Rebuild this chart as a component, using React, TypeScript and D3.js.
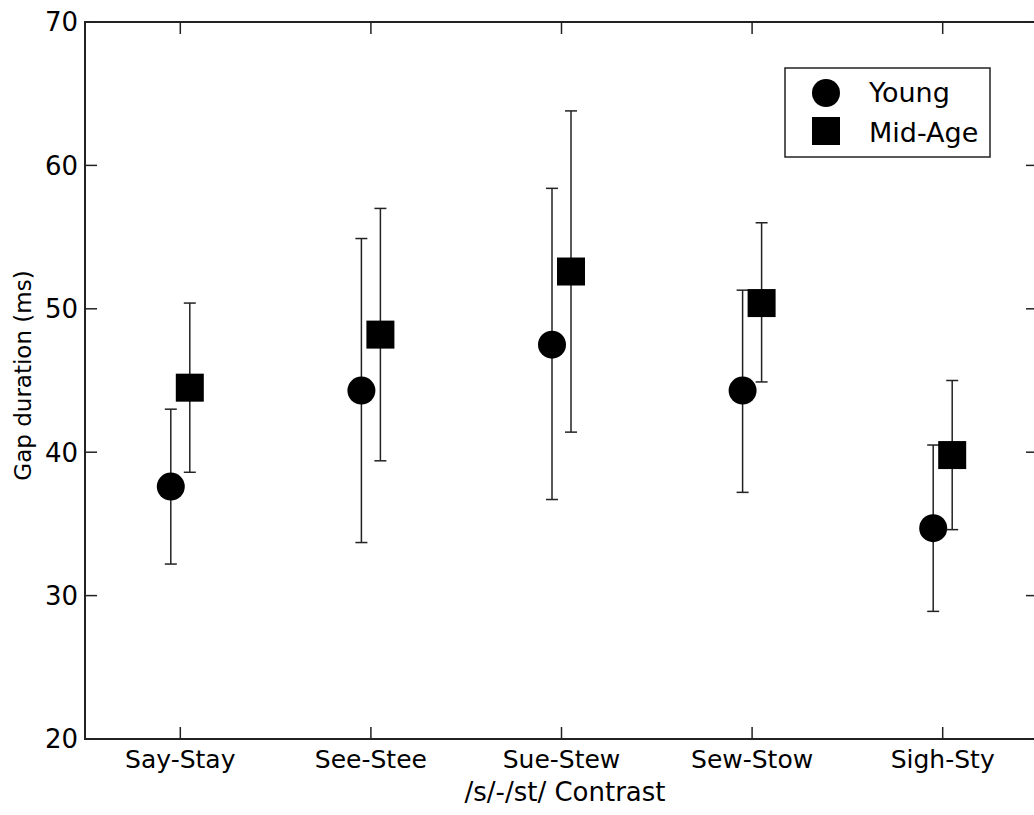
import React from 'react';
import * as d3 from 'd3';

// chart values
const categories = ['Say-Stay', 'See-Stee', 'Sue-Stew', 'Sew-Stow', 'Sigh-Sty'];
const youngMean = [37.6, 44.3, 47.5, 44.3, 34.7];
const youngLow = [32.2, 33.7, 36.7, 37.2, 28.9];
const youngHigh = [43.0, 54.9, 58.4, 51.3, 40.5];
const midMean = [44.5, 48.2, 52.6, 50.4, 39.8];
const midLow = [38.6, 39.4, 41.4, 44.9, 34.6];
const midHigh = [50.4, 57.0, 63.8, 56.0, 45.0];
const yTicks = [20, 30, 40, 50, 60, 70];

const W = 1034;
const H = 815;
const left = 85;
const top = 22;
const right = 1038;
const bottom = 739;
const font = 'DejaVu Sans, Verdana, sans-serif';

const App = () => {
  const x = d3.scaleLinear().domain([0, categories.length]).range([left, right]);
  const y = d3.scaleLinear().domain([20, 70]).range([bottom, top]);
  const off = 9.5;
  const tick = 12;
  const cap = 6;

  const series = [
    { name: 'Young', mean: youngMean, low: youngLow, high: youngHigh, dx: -off, shape: 'circle' },
    { name: 'Mid-Age', mean: midMean, low: midLow, high: midHigh, dx: off, shape: 'square' },
  ];

  return (
    <svg width={W} height={H} style={{ position: 'absolute', left: 0, top: 0, background: '#fff' }}>
      {/* frame */}
      <rect x={left} y={top} width={right - left} height={bottom - top} fill="none" stroke="#222" strokeWidth={2} />

      {/* y ticks left & right */}
      {yTicks.map((t) => (
        <g key={t}>
          <line x1={left} x2={left + tick} y1={y(t)} y2={y(t)} stroke="#222" strokeWidth={1.5} />
          <line x1={right - tick} x2={right} y1={y(t)} y2={y(t)} stroke="#222" strokeWidth={1.5} />
          <text x={78} y={y(t)} dy="0.36em" textAnchor="end" fontFamily={font} fontSize={26} fill="#000">
            {t}
          </text>
        </g>
      ))}

      {/* x ticks top & bottom */}
      {categories.map((c, i) => (
        <g key={c}>
          <line x1={x(i + 0.5)} x2={x(i + 0.5)} y1={bottom} y2={bottom - tick} stroke="#222" strokeWidth={1.5} />
          <line x1={x(i + 0.5)} x2={x(i + 0.5)} y1={top} y2={top + tick} stroke="#222" strokeWidth={1.5} />
          <text x={x(i + 0.5)} y={768} textAnchor="middle" fontFamily={font} fontSize={25} fill="#000">
            {c}
          </text>
        </g>
      ))}

      {/* axis titles */}
      <text x={565} y={801} textAnchor="middle" fontFamily={font} fontSize={26} fill="#000">
        /s/-/st/ Contrast
      </text>
      <text
        transform={`translate(31, ${(top + bottom) / 2 - 5}) rotate(-90)`}
        textAnchor="middle"
        fontFamily={font}
        fontSize={23}
        fill="#000"
      >
        Gap duration (ms)
      </text>

      {/* error bars and markers */}
      {series.map((s) => (
        <g key={s.name}>
          {categories.map((c, i) => {
            const cx = x(i + 0.5) + s.dx;
            return (
              <g key={c}>
                <line x1={cx} x2={cx} y1={y(s.low[i])} y2={y(s.high[i])} stroke="#222" strokeWidth={1.5} />
                <line x1={cx - cap} x2={cx + cap} y1={y(s.low[i])} y2={y(s.low[i])} stroke="#222" strokeWidth={1.5} />
                <line x1={cx - cap} x2={cx + cap} y1={y(s.high[i])} y2={y(s.high[i])} stroke="#222" strokeWidth={1.5} />
                {s.shape === 'circle' ? (
                  <circle cx={cx} cy={y(s.mean[i])} r={14} fill="#000" />
                ) : (
                  <rect x={cx - 14} y={y(s.mean[i]) - 14} width={28} height={28} fill="#000" />
                )}
              </g>
            );
          })}
        </g>
      ))}

      {/* legend */}
      <rect x={785} y={68} width={205} height={89} fill="#fff" stroke="#222" strokeWidth={1.5} />
      <circle cx={826} cy={93} r={14} fill="#000" />
      <rect x={812} y={117} width={28} height={28} fill="#000" />
      <text x={869} y={102} fontFamily={font} fontSize={27} fill="#000">Young</text>
      <text x={869} y={142} fontFamily={font} fontSize={27} fill="#000">Mid-Age</text>
    </svg>
  );
};

export default App;
